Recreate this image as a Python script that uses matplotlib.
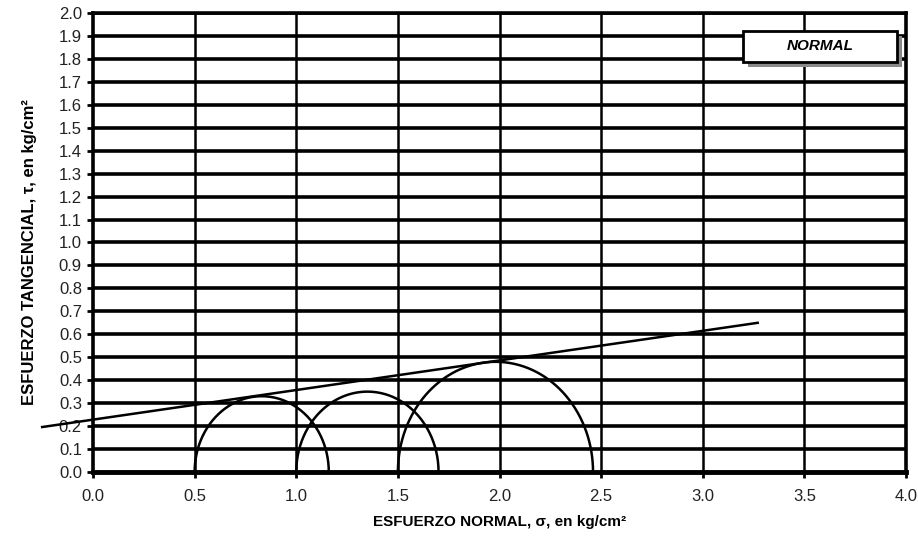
import numpy as np
import matplotlib

matplotlib.use("Agg")
import matplotlib.pyplot as plt
from matplotlib.patches import Rectangle

# Mohr circles (kg/cm2)
sigma3 = [0.50, 1.00, 1.50]
sigma1 = [1.16, 1.70, 2.46]

# failure envelope tau = c + sigma * tan(phi)
cohesion = 0.228
tan_phi = 0.129
env_sigma = [-0.25, 3.27]

x_ticks = [0.0, 0.5, 1.0, 1.5, 2.0, 2.5, 3.0, 3.5, 4.0]
y_ticks = [round(0.1 * i, 1) for i in range(21)]

plt.rcParams["font.family"] = ["Liberation Sans", "DejaVu Sans"]

fig = plt.figure(figsize=(9.18, 5.40), dpi=100)
ax = fig.add_axes([0.1013, 0.126, 0.8857, 0.850])

ax.set_xlim(0, 4.0)
ax.set_ylim(0, 2.0)
ax.set_xticks(x_ticks)
ax.set_yticks(y_ticks)
ax.set_xticklabels([f"{v:.1f}" for v in x_ticks], fontsize=12, color="#222222")
ax.set_yticklabels([f"{v:.1f}" for v in y_ticks], fontsize=12, color="#222222")
ax.tick_params(axis="both", direction="out", length=4, width=2, color="black")
ax.tick_params(axis="x", pad=8)
ax.tick_params(axis="y", pad=4)

for v in y_ticks[1:]:
    ax.axhline(v, color="black", lw=2.6, zorder=1)
for v in x_ticks[1:]:
    ax.axvline(v, color="black", lw=1.8, zorder=1)
for side in ["left", "bottom", "right", "top"]:
    ax.spines[side].set_linewidth(2.6)
ax.spines["bottom"].set_linewidth(3.5)

# Mohr semicircles
t = np.linspace(0, np.pi, 200)
for s3, s1 in zip(sigma3, sigma1):
    c = (s1 + s3) / 2
    r = (s1 - s3) / 2
    ax.plot(c + r * np.cos(t), r * np.sin(t), color="black", lw=1.8, zorder=3)

env_x = np.array(env_sigma)
ax.plot(env_x, cohesion + tan_phi * env_x, color="black", lw=1.8,
        clip_on=False, zorder=4)

ax.set_xlabel("ESFUERZO NORMAL, σ, en kg/cm²", fontsize=11, fontweight="bold",
              labelpad=8)
ax.set_ylabel("ESFUERZO TANGENCIAL, τ, en kg/cm²", fontsize=12,
              fontweight="bold")
ax.yaxis.set_label_coords(-0.069, 0.48)

# legend-like box with shadow
W, H = 918, 540
bx0, by0, bx1, by1 = 743, 31, 897, 62
shadow = Rectangle(((bx0 + 5) / W, 1 - (by1 + 5) / H), (bx1 - bx0) / W,
                   (by1 - by0) / H, transform=fig.transFigure,
                   facecolor="#8a8a8a", edgecolor="none", zorder=5)
box = Rectangle((bx0 / W, 1 - by1 / H), (bx1 - bx0) / W, (by1 - by0) / H,
                transform=fig.transFigure, facecolor="white",
                edgecolor="black", lw=2, zorder=6)
fig.patches.extend([shadow, box])
fig.text((bx0 + bx1) / 2 / W, 1 - (by0 + by1) / 2 / H, "NORMAL",
         ha="center", va="center", fontsize=11, fontweight="bold",
         fontstyle="italic", zorder=7)

fig.savefig("out.png", dpi=100)
